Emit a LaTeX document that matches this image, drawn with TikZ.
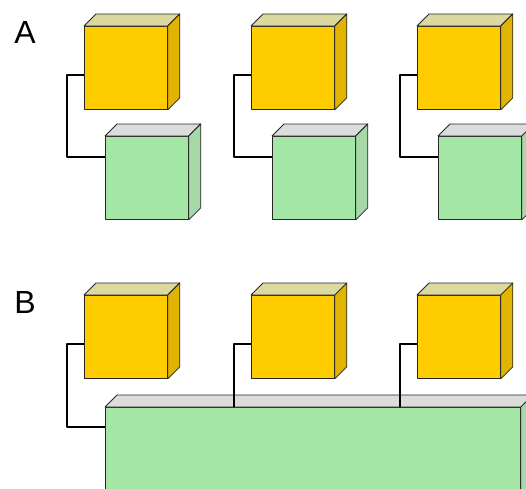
\documentclass[tikz,border=0pt]{standalone}
\usepackage{fontspec}
\setsansfont{Liberation Sans}

\definecolor{goldfront}{HTML}{FFCC00}
\definecolor{goldtop}{HTML}{DCD9A0}
\definecolor{goldside}{HTML}{E0B400}
\definecolor{mintfront}{HTML}{A3E6A5}
\definecolor{minttop}{HTML}{DCDCDC}
\definecolor{mintside}{HTML}{A8D8A8}

\begin{document}
\begin{tikzpicture}[x=1pt, y=-1pt, line join=round,
	face/.style={draw=black!85, line width=0.8pt},
	cpu/.style={face, fill=goldfront, minimum width=83pt, minimum height=83pt, inner sep=0pt, anchor=north west},
	mem/.style={face, fill=mintfront, minimum width=83pt, minimum height=83pt, inner sep=0pt, anchor=north west},
	wire/.style={line width=1.8pt},
	tag/.style={font=\sffamily\fontsize{32}{36}\selectfont}]
	\useasboundingbox (0,0) rectangle (526,488);
	\clip (0,0) rectangle (526,488);
	% front faces
	\foreach \i/\x in {1/84, 2/251, 3/417} {
		\node[cpu] (pa\i) at (\x,26) {};
		\node[mem] (ma\i) at (\x+21,136) {};
		\node[cpu] (pb\i) at (\x,295) {};
	}
	\node[mem, minimum width=415pt, minimum height=120pt] (mb) at (105,407) {};
	% top and side faces
	\foreach \n in {pa1,pa2,pa3,pb1,pb2,pb3} {
		\draw[face, fill=goldtop] (\n.north west) -- ++(12,-12) -- ([shift={(12pt,12pt)}]\n.north east) -- (\n.north east) -- cycle;
		\draw[face, fill=goldside] (\n.north east) -- ++(12,-12) -- ([shift={(12pt,12pt)}]\n.south east) -- (\n.south east) -- cycle;
	}
	\foreach \n in {ma1,ma2,ma3,mb} {
		\draw[face, fill=minttop] (\n.north west) -- ++(12,-12) -- ([shift={(12pt,12pt)}]\n.north east) -- (\n.north east) -- cycle;
		\draw[face, fill=mintside] (\n.north east) -- ++(12,-12) -- ([shift={(12pt,12pt)}]\n.south east) -- (\n.south east) -- cycle;
	}
	% links
	\foreach \i in {1,2,3}
		\draw[wire] ([yshift=-7pt]pa\i.west) -- ++(-17,0) |- ([yshift=-21pt]ma\i.north west);
	\draw[wire] ([yshift=-7pt]pb1.west) -- ++(-17,0) |- ([yshift=-20pt]mb.north west);
	\foreach \i in {2,3}
		\draw[wire] ([yshift=-7pt]pb\i.west) -- ++(-17,0) coordinate (k\i) -- (k\i |- mb.north);
	\node[tag] (la) at (25,32) {A};
	\node[tag] (lb) at (25,302) {B};
\end{tikzpicture}
\end{document}
